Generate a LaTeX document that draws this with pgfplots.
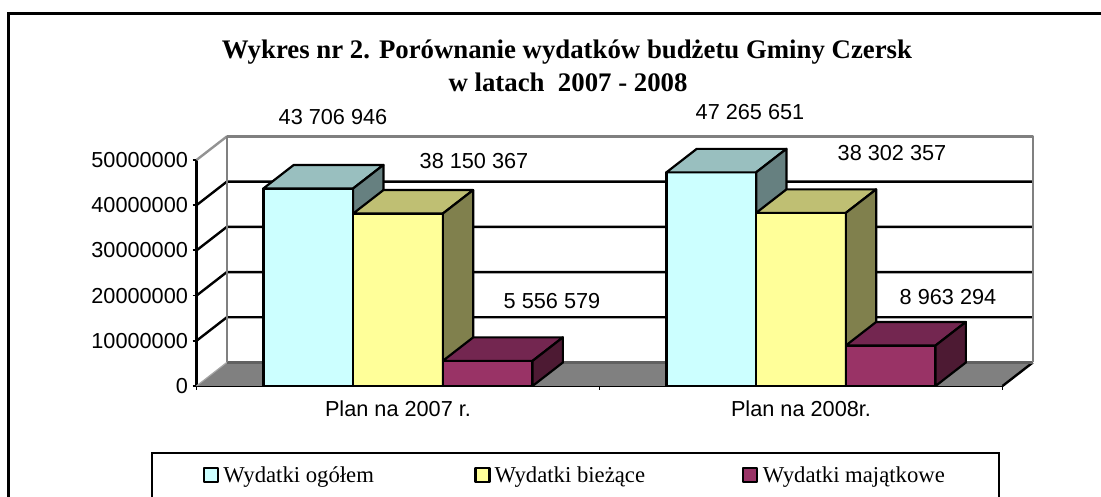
\documentclass[border=0pt]{standalone}
\usepackage{pgfplots}
\pgfplotsset{compat=1.18}
\usepackage{fontspec}
\setmainfont{Liberation Sans}
\newfontfamily\serif{Liberation Serif}
\definecolor{cf}{HTML}{CCFFFF}\definecolor{ct}{HTML}{99BFBF}\definecolor{cs}{HTML}{668080}
\definecolor{yf}{HTML}{FFFF99}\definecolor{yt}{HTML}{BFBF73}\definecolor{ys}{HTML}{80804D}
\definecolor{mf}{HTML}{993366}\definecolor{mt}{HTML}{732650}\definecolor{ms}{HTML}{4D1A33}
\definecolor{wallgray}{HTML}{808080}
\begin{document}
\begin{tikzpicture}[x=1pt,y=1pt]
\path[use as bounding box] (0,0) rectangle (1101,497);
\clip (0,0) rectangle (1101,497);
\fill[white] (0,0) rectangle (1101,497);
\draw[black,line width=3pt] (8,-20) -- (8,483.7) -- (1120,483.7);
\draw[black,line width=2.4pt] (152,-20) -- (152,44) -- (999,44) -- (999,-20);
\begin{axis}[
  at={(196.5pt,111pt)}, anchor=origin,
  width=806pt, height=226pt, scale only axis,
  clip=false,
  xmin=0, xmax=2, ymin=0, ymax=50000000,
  axis lines=left,
  axis line style={-,black,line width=2.4pt},
  xtick={0,1,2}, xticklabels={},
  extra x ticks={0.5,1.5},
  extra x tick labels={Plan na 2007 r.,Plan na 2008r.},
  extra x tick style={major tick length=0pt, tick style={draw=none}},
  ytick={0,10000000,20000000,30000000,40000000,50000000},
  scaled y ticks=false,
  /pgf/number format/assume math mode=true,
  /pgf/number format/fixed,
  /pgf/number format/set thousands separator={},
  tick align=outside,
  major tick length=4pt,
  tick style={black,line width=1.8pt},
  ticklabel style={font=\fontsize{21.7}{25}\selectfont},
  y tick label style={xshift=-1pt},
  x tick label style={yshift=-11pt},
  line join=round,
  legend columns=3,
  legend cell align=left,
  legend style={draw=none,fill=none,at={(0.0043,-0.394)},anchor=west,
    font=\serif\fontsize{22.7}{26}\selectfont,
    /tikz/every even column/.append style={column sep=0pt}},
  legend image code/.code={\draw[#1,draw=black,line width=2.2pt] (0pt,-7pt) rectangle (14pt,7pt);},
]
% walls and floor
\addplot[forget plot,fill=white,draw=none] coordinates {(0.0752,5200000)(0.0752,55200000)(2.0752,55200000)(2.0752,5200000)(0.0752,5200000)};
\addplot[forget plot,fill=wallgray,draw=none] coordinates {(0,0)(0.0752,5200000)(2.0752,5200000)(2,0)(0,0)};
\addplot[forget plot,draw=wallgray!85,line width=2.4pt] coordinates {(0,50000000)(0.0752,55200000)};
\addplot[forget plot,draw=wallgray!70,line width=1.2pt] coordinates {(0,0)(0.0752,5200000)};
\addplot[forget plot,draw=black,line width=2.4pt] coordinates {(2,0)(2.0752,5200000)};
\addplot[forget plot,draw=black!62,line width=2.2pt] coordinates {(0.0752,5200000)(2.0752,5200000)};
\addplot[forget plot,draw=black,line width=2.4pt] coordinates {(0,10000000)(0.0752,15200000)(2.0752,15200000)};
\addplot[forget plot,draw=black,line width=2.4pt] coordinates {(0,20000000)(0.0752,25200000)(2.0752,25200000)};
\addplot[forget plot,draw=black,line width=2.4pt] coordinates {(0,30000000)(0.0752,35200000)(2.0752,35200000)};
\addplot[forget plot,draw=black,line width=2.4pt] coordinates {(0,40000000)(0.0752,45200000)(2.0752,45200000)};
\addplot[forget plot,draw=wallgray,line width=2.6pt] coordinates {(0.0752,5200000)(0.0752,55200000)(2.0752,55200000)(2.0752,5200000)};
% Wydatki ogolem
\addplot[ybar,bar width=89.7pt,bar shift=-89.7pt,fill=cf,draw=black,line width=2.2pt] coordinates {(0.5,43706946)(1.5,47265651)};
\addlegendentry{\hspace{2pt}\makebox[249pt][l]{Wydatki ogółem}}
\addplot[forget plot,fill=ct,draw=black,line width=2.2pt] coordinates {(0.1661,43706946)(0.2413,48906946)(0.4639,48906946)(0.3887,43706946)(0.1661,43706946)};
\addplot[forget plot,fill=cs,draw=black,line width=2.2pt] coordinates {(0.3887,43706946)(0.4639,48906946)(0.4639,5200000)(0.3887,0)(0.3887,43706946)};
\addplot[forget plot,fill=ct,draw=black,line width=2.2pt] coordinates {(1.1661,47265651)(1.2413,52465651)(1.4639,52465651)(1.3887,47265651)(1.1661,47265651)};
\addplot[forget plot,fill=cs,draw=black,line width=2.2pt] coordinates {(1.3887,47265651)(1.4639,52465651)(1.4639,5200000)(1.3887,0)(1.3887,47265651)};
% Wydatki biezace
\addplot[ybar,bar width=89.7pt,bar shift=0pt,fill=yf,draw=black,line width=2.2pt] coordinates {(0.5,38150367)(1.5,38302357)};
\addlegendentry{\hspace{2pt}\makebox[245pt][l]{Wydatki bieżące}}
\addplot[forget plot,fill=yt,draw=black,line width=2.2pt] coordinates {(0.3887,38150367)(0.4639,43350367)(0.6865,43350367)(0.6113,38150367)(0.3887,38150367)};
\addplot[forget plot,fill=ys,draw=black,line width=2.2pt] coordinates {(0.6113,38150367)(0.6865,43350367)(0.6865,5200000)(0.6113,0)(0.6113,38150367)};
\addplot[forget plot,fill=yt,draw=black,line width=2.2pt] coordinates {(1.3887,38302357)(1.4639,43502357)(1.6865,43502357)(1.6113,38302357)(1.3887,38302357)};
\addplot[forget plot,fill=ys,draw=black,line width=2.2pt] coordinates {(1.6113,38302357)(1.6865,43502357)(1.6865,5200000)(1.6113,0)(1.6113,38302357)};
% Wydatki majatkowe
\addplot[ybar,bar width=89.7pt,bar shift=89.7pt,fill=mf,draw=black,line width=2.2pt] coordinates {(0.5,5556579)(1.5,8963294)};
\addlegendentry{\hspace{3pt}Wydatki majątkowe}
\addplot[forget plot,fill=mt,draw=black,line width=2.2pt] coordinates {(0.6113,5556579)(0.6865,10756579)(0.9091,10756579)(0.8339,5556579)(0.6113,5556579)};
\addplot[forget plot,fill=ms,draw=black,line width=2.2pt] coordinates {(0.8339,5556579)(0.9091,10756579)(0.9091,5200000)(0.8339,0)(0.8339,5556579)};
\addplot[forget plot,fill=mt,draw=black,line width=2.2pt] coordinates {(1.6113,8963294)(1.6865,14163294)(1.9091,14163294)(1.8339,8963294)(1.6113,8963294)};
\addplot[forget plot,fill=ms,draw=black,line width=2.2pt] coordinates {(1.8339,8963294)(1.9091,14163294)(1.9091,5200000)(1.8339,0)(1.8339,8963294)};
\end{axis}
\begin{scope}[every node/.style={inner sep=0pt,font=\fontsize{21.7}{25}\selectfont}]
\node at (333,380) {43 706 946};
\node at (474,336.3) {38 150 367};
\node at (552,196.3) {5 556 579};
\node at (750,385.3) {47 265 651};
\node at (892,344.3) {38 302 357};
\node at (948,200) {8 963 294};
\end{scope}
\begin{scope}[every node/.style={anchor=base,inner sep=0pt,font=\serif\bfseries\fontsize{26.8}{30}\selectfont}]
\node at (567,438) {Wykres nr 2. Porównanie wydatków budżetu Gminy Czersk};
\node at (568,405) {w latach\ \ 2007 - 2008};
\end{scope}
\end{tikzpicture}
\end{document}
